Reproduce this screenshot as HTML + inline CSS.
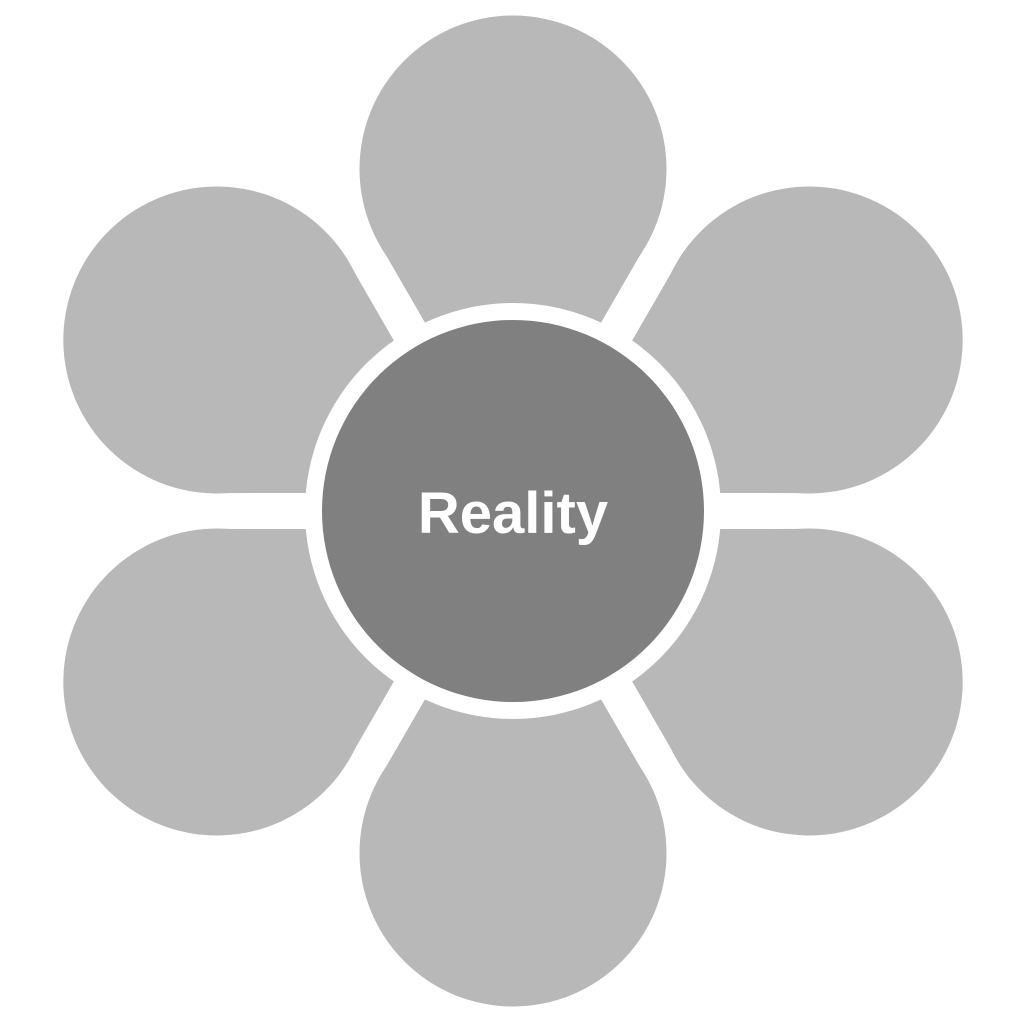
<!DOCTYPE html>
<html><head><meta charset="utf-8"><style>html,body{margin:0;padding:0;background:#fff}svg{display:block}</style></head>
<body>
<svg width="1024" height="1024" viewBox="0 0 1024 1024" xmlns="http://www.w3.org/2000/svg">
<defs>
<g id="p" fill="#b8b8b8">
<circle cx="513" cy="169" r="153.5"/>
<polygon points="513,475 645.7,245.3 380.3,245.3"/>
</g>
</defs>
<use href="#p"/>
<use href="#p" transform="rotate(60 513 511)"/>
<use href="#p" transform="rotate(120 513 511)"/>
<use href="#p" transform="rotate(180 513 511)"/>
<use href="#p" transform="rotate(240 513 511)"/>
<use href="#p" transform="rotate(300 513 511)"/>
<circle cx="513" cy="511" r="208" fill="#fff"/>
<circle cx="513" cy="511" r="191" fill="#808080"/>
<text x="513" y="533" text-anchor="middle" font-family="Liberation Sans, sans-serif" font-weight="bold" font-size="58" fill="#fff">Reality</text>
</svg>
</body></html>
